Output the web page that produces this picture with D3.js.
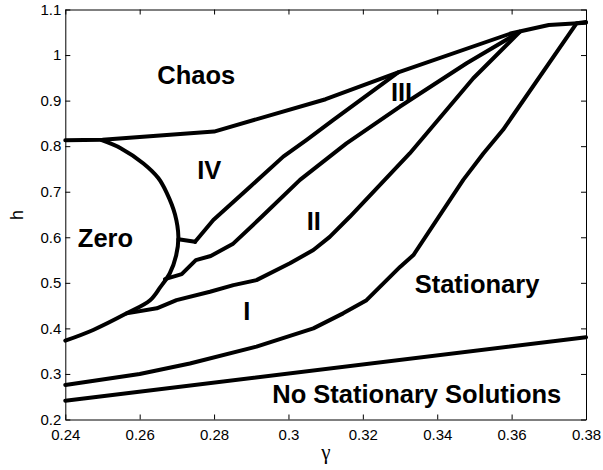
<!DOCTYPE html>
<html>
<head>
<meta charset="utf-8">
<title>Phase diagram</title>
<script src="https://cdn.jsdelivr.net/npm/d3@7"></script>
<style>
  body { margin: 0; background: #fff; }
  svg text { font-family: "Liberation Sans", Arial, sans-serif; fill: #000; }
  .axis text { font-size: 15px; }
  .axis path, .axis line { stroke: #000; stroke-width: 1; }
  .region { font-size: 25.5px; font-weight: bold; text-anchor: middle; }
  .curve { fill: none; stroke: #000; stroke-width: 4; stroke-linejoin: round; stroke-linecap: round; }
</style>
</head>
<body>
<svg id="chart" width="603" height="470"></svg>
<script>
// tick values
const xTicks = [0.24, 0.26, 0.28, 0.3, 0.32, 0.34, 0.36, 0.38];
const yTicks = [0.2, 0.3, 0.4, 0.5, 0.6, 0.7, 0.8, 0.9, 1, 1.1];

// boundary curves, gamma / h
const chaosG = [0.24, 0.25, 0.28, 0.31, 0.3295, 0.36, 0.37, 0.38];
const chaosH = [0.813, 0.814, 0.832, 0.903, 0.962, 1.048, 1.066, 1.071];

const zeroG = [0.2498, 0.255, 0.261, 0.265, 0.2673, 0.2695, 0.2704, 0.2698, 0.2681, 0.2655, 0.2628, 0.2565, 0.2475, 0.24];
const zeroH = [0.813, 0.795, 0.762, 0.73, 0.697, 0.65, 0.601, 0.56, 0.521, 0.49, 0.462, 0.433, 0.3965, 0.373];

const stubG = [0.2704, 0.2749];
const stubH = [0.5956, 0.590];

const ivG = [0.2749, 0.2798, 0.2897, 0.2986, 0.3049, 0.312, 0.3295];
const ivH = [0.590, 0.638, 0.711, 0.777, 0.814, 0.857, 0.962];

const iiiG = [0.2668, 0.2713, 0.2751, 0.2791, 0.2850, 0.2928, 0.3031, 0.3156, 0.330, 0.3479, 0.3622];
const iiiH = [0.508, 0.519, 0.550, 0.559, 0.585, 0.645, 0.726, 0.806, 0.887, 0.982, 1.051];

const iiG = [0.2565, 0.2646, 0.2699, 0.2789, 0.2852, 0.2914, 0.3004, 0.3067, 0.3111, 0.3165, 0.3326, 0.3497, 0.3622];
const iiH = [0.433, 0.444, 0.462, 0.4805, 0.495, 0.506, 0.543, 0.572, 0.601, 0.645, 0.784, 0.949, 1.051];

const statG = [0.24, 0.26, 0.2735, 0.2914, 0.3067, 0.3147, 0.321, 0.33, 0.3336, 0.347, 0.3524, 0.3577, 0.3775, 0.38];
const statH = [0.2758, 0.300, 0.323, 0.360, 0.40, 0.433, 0.462, 0.535, 0.561, 0.726, 0.784, 0.836, 1.07, 1.0725];

const noStatG = [0.24, 0.38];
const noStatH = [0.2413, 0.3805];

// region labels
const labelText = ["Chaos", "IV", "Zero", "III", "II", "I", "Stationary", "No Stationary Solutions"];
const labelG = [0.2752, 0.2787, 0.2508, 0.3304, 0.3068, 0.2888, 0.3507, 0.3345];
const labelH = [0.937, 0.728, 0.579, 0.899, 0.615, 0.419, 0.478, 0.237];

const svg = d3.select("#chart");
const mLeft = 65.3, mRight = 586, mTop = 9.5, mBottom = 419.5;

const x = d3.scaleLinear().domain([0.24, 0.38]).range([mLeft, mRight]);
const y = d3.scaleLinear().domain([0.2, 1.1]).range([mBottom, mTop]);

const fmt = d => String(+d.toFixed(2));

svg.append("g").attr("class", "axis")
  .attr("transform", `translate(0,${mBottom})`)
  .call(d3.axisBottom(x).tickValues(xTicks).tickFormat(fmt).tickSizeInner(-5).tickSizeOuter(0).tickPadding(10));
svg.append("g").attr("class", "axis")
  .attr("transform", `translate(0,${mTop})`)
  .call(d3.axisTop(x).tickValues(xTicks).tickFormat("").tickSizeInner(-5).tickSizeOuter(0));
svg.append("g").attr("class", "axis")
  .attr("transform", `translate(${mLeft},0)`)
  .call(d3.axisLeft(y).tickValues(yTicks).tickFormat(fmt).tickSizeInner(-5).tickSizeOuter(0).tickPadding(4));
svg.append("g").attr("class", "axis")
  .attr("transform", `translate(${mRight},0)`)
  .call(d3.axisRight(y).tickValues(yTicks).tickFormat("").tickSizeInner(-5).tickSizeOuter(0));

svg.selectAll(".axis text").style("fill", "#000");

const line = d3.line().x(d => x(d[0])).y(d => y(d[1]));
const zeroLine = d3.line().x(d => x(d[0])).y(d => y(d[1])).curve(d3.curveCatmullRom);

const curves = [
  [chaosG, chaosH, line],
  [zeroG, zeroH, zeroLine],
  [stubG, stubH, line],
  [ivG, ivH, line],
  [iiiG, iiiH, line],
  [iiG, iiH, line],
  [statG, statH, line],
  [noStatG, noStatH, line]
];

curves.forEach(([g, h, gen]) => {
  svg.append("path")
    .attr("class", "curve")
    .attr("d", gen(g.map((v, i) => [v, h[i]])));
});

svg.selectAll(".region")
  .data(labelText)
  .enter().append("text")
  .attr("class", "region")
  .attr("x", (d, i) => x(labelG[i]))
  .attr("y", (d, i) => y(labelH[i]))
  .text(d => d);

// axis titles
svg.append("text")
  .attr("x", 326).attr("y", 459)
  .attr("text-anchor", "middle")
  .style("font-family", "'Liberation Serif', 'DejaVu Serif', serif")
  .style("font-size", "21px")
  .text("γ");
svg.append("text")
  .attr("transform", "translate(23,215) rotate(-90)")
  .attr("text-anchor", "middle")
  .style("font-size", "18px")
  .text("h");
</script>
</body>
</html>
